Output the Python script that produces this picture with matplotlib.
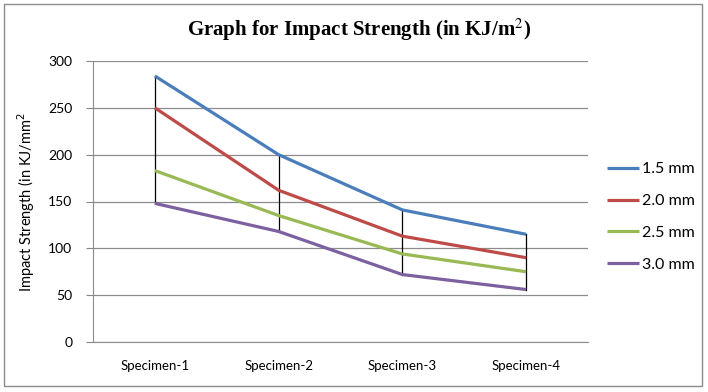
import matplotlib
matplotlib.use("Agg")
import matplotlib.pyplot as plt
from matplotlib.patches import Rectangle

specimens = ["Specimen-1", "Specimen-2", "Specimen-3", "Specimen-4"]
labels = ["1.5 mm", "2.0 mm", "2.5 mm", "3.0 mm"]
s15 = [284, 200, 141, 115]
s20 = [250, 162, 113, 90]
s25 = [183, 135, 94, 75]
s30 = [148, 118, 72, 56]
colors = ["#4A7EBB", "#BE4B48", "#98B954", "#7D60A0"]
yticks = [0, 50, 100, 150, 200, 250, 300]

fig = plt.figure(figsize=(7.08, 3.92), dpi=100)
ax = fig.add_axes([93 / 708, 1 - 342 / 392, 495 / 708, 281 / 392])

x = list(range(len(specimens)))
series = [s15, s20, s25, s30]

# high-low lines
for i in x:
    vals = [s[i] for s in series]
    ax.plot([i, i], [min(vals), max(vals)], color="black", lw=0.9, zorder=2)

for s, c, lab in zip(series, colors, labels):
    ax.plot(x, s, color=c, lw=2.3, label=lab, zorder=3, solid_capstyle="butt")

ax.set_xlim(-0.5, 3.5)
ax.set_ylim(0, 300)
ax.set_yticks(yticks)
ax.set_xticks(x)
ax.set_xticklabels(specimens, fontsize=9.5, family="Lato")
ax.tick_params(axis="x", length=0, pad=13)
ax.tick_params(axis="y", length=5, color="#888888", labelsize=10, pad=10)
for t in ax.get_yticklabels():
    t.set_family("Lato")
ax.grid(axis="y", color="#8c8c8c", lw=0.9)
ax.set_axisbelow(True)
for sp in ["top", "right"]:
    ax.spines[sp].set_visible(False)
for sp in ["left", "bottom"]:
    ax.spines[sp].set_color("#8c8c8c")
ax.set_ylabel("Impact Strength (in KJ/mm$^2$", fontsize=10.5, family="Lato", labelpad=8)

ax.legend(loc="center left", bbox_to_anchor=(1.01, 0.445), frameon=False,
          prop={"family": "Lato", "size": 11.5}, handlelength=2.0,
          handletextpad=0.2, labelspacing=1.1)

fig.text(0.507, 0.925, "Graph for Impact Strength (in KJ/m$^2$)", ha="center",
         va="center", fontsize=15, fontweight="bold", family="Liberation Serif",
         math_fontfamily="stix")

fig.patches.append(Rectangle((4 / 708, 6 / 392), 698 / 708, 382 / 392,
                             transform=fig.transFigure, fill=False,
                             edgecolor="#8c8c8c", lw=1))

fig.savefig("out.png", dpi=100)
